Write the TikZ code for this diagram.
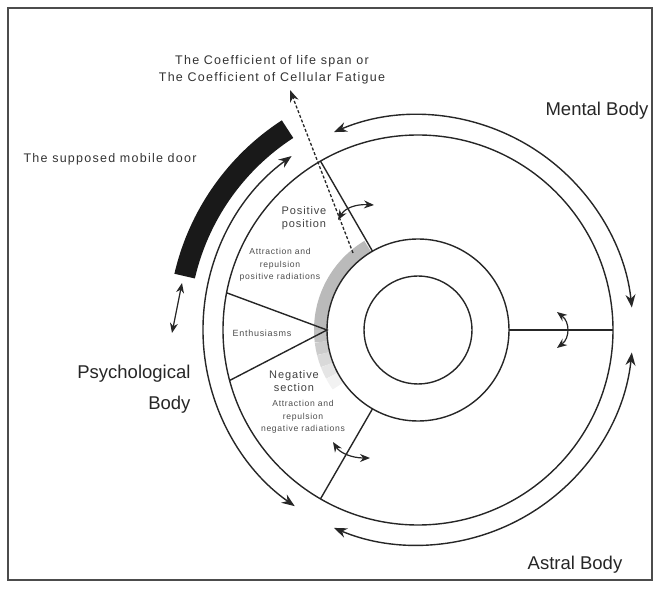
\documentclass[tikz,border=0pt]{standalone}
\usepackage{fontspec}
\setmainfont{Liberation Sans}
\newfontfamily\widesans[LetterSpace=10]{Liberation Sans}
\newfontfamily\tightsans[LetterSpace=8]{Liberation Sans}
\usetikzlibrary{arrows.meta}

\tikzset{
  ring/.style={line width=1.4pt, draw=black!85},
  orbit/.style={line width=1.4pt, draw=black!85, {Stealth[length=13pt,width=10pt]}-{Stealth[length=13pt,width=10pt]}},
  swing/.style={line width=1.2pt, draw=black!85, {Stealth[length=10pt,width=8pt]}-{Stealth[length=10pt,width=8pt]}},
  bodylabel/.style={font=\fontsize{18.5}{31}\selectfont, text=black!85},
  caption/.style={font=\widesans\fontsize{12.5}{16.5}\selectfont, text=black!80, align=center},
  tag/.style={font=\tightsans\fontsize{11}{13}\selectfont, text=black!75, align=center},
  smalltag/.style={font=\tightsans\fontsize{8.6}{12.5}\selectfont, text=black!70, align=center},
}

\begin{document}
\begin{tikzpicture}[x=1pt,y=1pt]
\useasboundingbox (-418,-258) rectangle (242,330);
\draw[black!70, line width=1.2pt] (-410,-250) rectangle (234,322);
\coordinate (c) at (0,0);

% grey halo round the middle circle
\foreach \a/\b/\g in {121/180/27, 180/187/24, 187/194/20, 194/201/15, 201/208/10, 208/215/5}
  \draw[line width=13pt, black!\g] (\a:97.5) arc[start angle=\a, end angle=\b, radius=97.5];

\draw[ring] (c) circle (54);
\draw[ring] (c) circle (91);
\draw[ring] (c) circle (195);

% sections
\coordinate (posin) at (120:91);  \coordinate (posout) at (120:195);
\coordinate (negin) at (240:91);  \coordinate (negout) at (240:195);
\coordinate (eastin) at (0:91);   \coordinate (eastout) at (0:195);
\coordinate (apex) at (180:91);
\coordinate (enthtop) at (169:195); \coordinate (enthbot) at (195:195);
\draw[ring] (posin) -- (posout);
\draw[ring] (negin) -- (negout);
\draw[ring] (eastin) -- (eastout);
\draw[ring] (enthtop) -- (apex) -- (enthbot);

% the three bodies
\draw[orbit] (113:215) arc[start angle=113, end angle=6, radius=215];
\draw[orbit] (-6:215) arc[start angle=-6, end angle=-113, radius=215];
\draw[orbit] (126:215) arc[start angle=126, end angle=235, radius=215];

% mobile door
\fill[black!90] (123:229) arc[start angle=123, end angle=167, radius=229]
  -- (167:250) arc[start angle=167, end angle=123, radius=250] -- cycle;
\coordinate (doortop) at (-236,47); \coordinate (doorbot) at (-246,-3);
\draw[swing] (doortop) -- (doorbot);

% coefficient
\coordinate (dashfoot) at (-65,77); \coordinate (dashtip) at (-128,240);
\draw[line width=1.3pt, black!85, dash pattern=on 3pt off 2pt, -{Stealth[length=12pt,width=9pt]}] (dashfoot) -- (dashtip);

% swinging arrows
\draw[swing] (-80,110) .. controls (-73,122) and (-62,126) .. (-44,125);
\draw[swing] (-85,-112) .. controls (-78,-123) and (-66,-128) .. (-48,-128);
\draw[swing] (139,18) .. controls (152,8) and (152,-8) .. (139,-18);

% labels
\node[caption] (coef) at (-146,260) {The Coefficient of life span or\\The Coefficient of Cellular Fatigue};
\node[caption, anchor=west] (door) at (-398,171) {The supposed mobile door};
\node[bodylabel] (mental) at (179,219) {Mental Body};
\node[bodylabel] (astral) at (157,-235) {Astral Body};
\node[bodylabel, align=right, anchor=north east] (psych) at (-224,-32) {Psychological\\Body};
\node[tag] (pospos) at (-114,112) {Positive\\position};
\node[smalltag] (posrad) at (-138,65) {Attraction and\\repulsion\\positive radiations};
\node[smalltag, font=\tightsans\fontsize{9}{12.5}\selectfont] (enth) at (-156,-3) {Enthusiasms};
\node[tag] (negsec) at (-124,-51) {Negative\\section};
\node[smalltag] (negrad) at (-115,-87) {Attraction and\\repulsion\\negative radiations};
\end{tikzpicture}
\end{document}
